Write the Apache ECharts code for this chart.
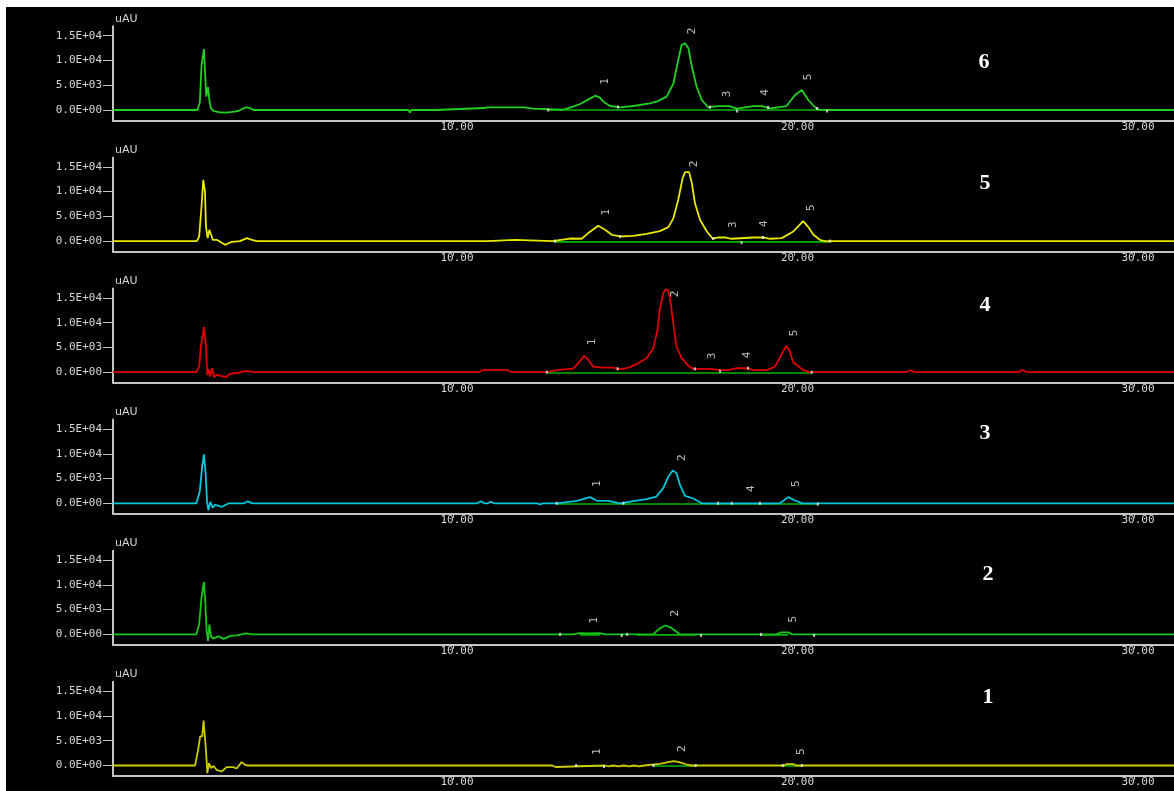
<!DOCTYPE html>
<html><head><meta charset="utf-8">
<script src="https://cdn.jsdelivr.net/npm/echarts@6/dist/echarts.min.js"></script>
<style>
html,body{margin:0;padding:0;background:#fff;width:1174px;height:791px;overflow:hidden;}
#c{position:absolute;left:6px;top:7px;width:1168px;height:784px;background:#000;}
</style>
</head><body><div id="c"></div>
<script>
// ---------- data ----------
const panelNames = ['6', '5', '4', '3', '2', '1'];
const xTicks = [10, 20, 30];
const yTicks = [0, 5000, 10000, 15000];
const yTickLabels = ['0.0E+00', '5.0E+03', '1.0E+04', '1.5E+04'];
const yUnit = 'uAU';

// traces [time(min), signal(uAU)]
const tr6 = [[0,0],[2.05,0],[2.08,-300],[2.11,0],[2.48,0],[2.55,1500],[2.6,9000],[2.64,9100],[2.67,12300],[2.7,8100],[2.74,2700],[2.79,4600],[2.84,1500],[2.88,300],[2.95,-200],[3.1,-450],[3.34,-550],[3.5,-400],[3.68,-200],[3.85,400],[3.93,550],[4.02,400],[4.12,0],
[8.68,0],[8.72,-500],[8.76,0],[9.49,0],[9.52,400],[10.9,400],[10.93,200],[10.98,550],[12.08,550],[12.12,270],[12.33,270],[12.38,0],[13.2,50],[13.45,545],[13.72,1210],[13.95,2100],[14.16,2890],[14.3,2500],[14.4,1680],[14.6,810],[14.89,545],[15.28,810],[15.77,1350],[16.0,1800],[16.26,2690],[16.46,5390],[16.6,10100],[16.7,13120],[16.8,13460],[16.9,12450],[17.0,8750],[17.14,4700],[17.29,2020],[17.48,545],[17.63,670],[17.8,800],[18.1,800],[18.32,270],[18.8,800],[19.06,800],[19.3,340],[19.78,800],[20.03,3030],[20.23,4040],[20.42,2020],[20.62,545],[20.76,0],[31.2,0]];
const tr5 = [[0,0],[2.46,0],[2.53,930],[2.6,6990],[2.65,12380],[2.7,10010],[2.73,2950],[2.78,600],[2.83,2280],[2.88,1940],[2.93,260],[3.05,260],[3.29,-750],[3.49,-140],[3.73,0],[3.93,600],[4.08,250],[4.22,0],
[11.0,0],[11.05,250],[11.8,250],[11.85,0],[12.9,0],[13.42,520],[13.76,470],[13.96,1620],[14.25,3090],[14.45,2280],[14.65,1270],[14.89,930],[15.28,1070],[15.67,1480],[16.06,2020],[16.31,2830],[16.46,4640],[16.6,8340],[16.73,12720],[16.8,13930],[16.92,13930],[17.0,11710],[17.09,7670],[17.24,4300],[17.44,1940],[17.61,520],[17.78,730],[17.97,730],[18.17,470],[18.8,730],[19.1,730],[19.3,470],[19.64,600],[19.98,1940],[20.27,4040],[20.42,2830],[20.57,1270],[20.76,260],[20.9,0],
[24.4,0],[24.45,300],[24.5,0],[25.5,0],[25.55,350],[25.6,0],[26.9,0],[26.95,300],[27.0,0],[28.5,0],[28.55,300],[28.6,0],[31.2,0]];
const tr4 = [[0,0],[2.44,0],[2.53,1130],[2.58,5170],[2.63,7190],[2.67,9090],[2.73,5170],[2.77,-550],[2.81,600],[2.85,-880],[2.91,800],[2.97,-1010],[3.05,-550],[3.32,-1010],[3.43,-340],[3.73,-60],[3.93,270],[4.12,0],
[10.75,0],[10.85,400],[11.6,400],[11.7,0],[12.74,0],[13.08,460],[13.52,730],[13.7,2140],[13.84,3290],[13.96,2480],[14.1,1130],[14.35,930],[14.69,930],[14.84,600],[15.09,800],[15.38,1620],[15.67,2830],[15.87,4850],[15.99,8540],[16.06,12580],[16.16,15950],[16.23,16760],[16.31,16470],[16.38,13930],[16.46,9550],[16.55,5170],[16.7,2830],[16.9,1270],[17.04,670],[17.53,670],[17.83,400],[18.07,400],[18.32,800],[18.61,800],[18.81,400],[19.2,400],[19.44,1130],[19.6,3150],[19.77,5310],[19.86,4500],[19.98,1940],[20.27,460],[20.45,0],
[23.3,0],[23.4,400],[23.55,0],[26.6,0],[26.7,500],[26.85,0],[31.2,0]];
const tr3 = [[0,0],[2.45,0],[2.55,2500],[2.62,7500],[2.67,9900],[2.72,6000],[2.76,500],[2.8,-1400],[2.86,300],[2.93,-900],[3.0,-300],[3.2,-700],[3.4,0],[3.85,0],[3.95,400],[4.1,0],
[10.7,0],[10.8,400],[10.9,0],[11.0,0],[11.1,300],[11.2,0],[12.45,0],[12.54,-200],[12.62,0],[13.03,0],[13.62,500],[14.01,1250],[14.2,560],[14.55,500],[14.89,0],[15.33,500],[15.67,840],[15.96,1370],[16.16,3060],[16.31,5400],[16.44,6620],[16.55,6090],[16.65,3730],[16.8,1510],[17.04,970],[17.29,0],[19.59,0],[19.83,1250],[20.03,560],[20.25,0],
[21.0,0],[21.05,-300],[21.1,0],[22.0,0],[22.05,250],[22.1,0],[23.5,0],[23.55,-250],[23.6,0],[25.0,0],[25.05,300],[25.1,0],[26.5,0],[26.55,-250],[26.6,0],[28.0,0],[28.05,250],[28.1,0],[29.6,0],[29.65,-250],[29.7,0],[31.2,0]];
const tr2 = [[0,0],[2.45,0],[2.53,2000],[2.6,7500],[2.64,7800],[2.67,10560],[2.71,6500],[2.75,600],[2.79,-1300],[2.83,2000],[2.88,-500],[2.95,-800],[3.1,-400],[3.25,-900],[3.45,-300],[3.65,-200],[3.9,200],[4.1,0],
[13.5,0],[13.7,260],[14.0,200],[14.3,260],[14.45,0],[15.87,50],[16.06,1200],[16.21,1800],[16.38,1400],[16.55,530],[16.65,0],[19.5,0],[19.6,400],[19.83,400],[19.95,0],[31.2,0]];
const tr1 = [[0,0],[2.41,0],[2.5,3170],[2.56,5860],[2.62,5860],[2.66,9090],[2.7,9090],[2.73,3170],[2.77,-1540],[2.82,480],[2.88,-530],[2.95,-100],[3.04,-870],[3.19,-1210],[3.34,-330],[3.53,-330],[3.63,-600],[3.78,680],[3.88,140],[3.97,0],
[5.0,0],[5.05,-300],[5.1,0],[6.0,0],[6.05,250],[6.1,0],[7.2,0],[7.25,-250],[7.3,0],[8.3,0],[8.35,250],[8.4,0],[9.2,0],[9.25,-200],[9.3,0],
[12.8,0],[12.85,-300],[12.9,0],[13.0,-300],[13.05,0],[14.45,0],[14.55,-200],[14.7,0],[14.85,-200],[15.0,0],[15.15,-200],[15.3,0],[15.45,-200],[15.6,0],
[16.06,340],[16.31,680],[16.46,880],[16.6,740],[16.85,200],[17.0,0],[19.7,0],[19.78,290],[19.98,290],[20.05,0],[26.4,0],[26.42,-250],[26.45,0],[31.2,0]];

// integration baselines (null = gap)
const bl6 = [[12.78,0],[20.97,0]];
const bl5 = [[12.98,-150],[21.06,-150]];
const bl4 = [[12.74,-150],[20.52,-150]];
const bl3 = [[13.03,-150],[20.7,-150]];
const bl2 = [[13.72,-100],[14.3,-100],null,[15.38,-100],[17.14,-100],null,[19.0,-100],[19.83,-100]];
const bl1 = [[13.6,-100],[14.42,-100],null,[15.87,-100],[17.11,-100],null,[19.67,-100],[20.23,-100]];

// peak start/end markers
const mk6 = [[12.78,0],[14.83,600],[17.53,600],[18.33,-200],[19.24,500],[20.68,300],[20.97,-200]];
const mk5 = [[12.98,0],[14.89,930],[17.63,520],[18.46,-300],[19.09,730],[21.06,0]];
const mk4 = [[12.74,0],[14.82,700],[17.09,670],[17.83,200],[18.65,800],[20.52,0]];
const mk3 = [[13.03,0],[14.99,0],[17.77,0],[18.17,0],[19.0,0],[20.7,-150]];
const mk2 = [[13.13,0],[14.94,-200],[15.1,0],[17.27,-200],[19.03,0],[20.59,-200]];
const mk1 = [[13.6,0],[14.42,-200],[15.87,0],[17.11,0],[19.67,0],[20.23,0]];

// peak number labels [time, signal, text]
const lb6 = [[14.45,5750,'1'],[17.0,15950,'2'],[18.05,3230,'3'],[19.15,3530,'4'],[20.41,6660,'5']];
const lb5 = [[14.48,5815,'1'],[17.06,15600,'2'],[18.21,3290,'3'],[19.12,3490,'4'],[20.5,6720,'5']];
const lb4 = [[14.07,6120,'1'],[16.52,15800,'2'],[17.59,3290,'3'],[18.62,3490,'4'],[20.0,7930,'5']];
const lb3 = [[14.21,3940,'1'],[16.71,9190,'2'],[18.74,2930,'4'],[20.06,3940,'5']];
const lb2 = [[14.13,2890,'1'],[16.5,4300,'2'],[19.97,3090,'5']];
const lb1 = [[14.21,2770,'1'],[16.71,3370,'2'],[20.21,2770,'5']];

// ---------- layout / style ----------
const OX = 6, OY = 7;
const traces = [tr6, tr5, tr4, tr3, tr2, tr1];
const bases = [bl6, bl5, bl4, bl3, bl2, bl1];
const marks = [mk6, mk5, mk4, mk3, mk2, mk1];
const labels = [lb6, lb5, lb4, lb3, lb2, lb1];
const colors = ['#22d022', '#e8e800', '#e00000', '#00c8dc', '#18c818', '#cccc00'];
const numPos = [[984, 62], [985, 183], [985, 305], [985, 433], [988, 574], [988, 697]];
const Y0 = 110, DY = 131.1, KY = 74.3 / 15000, YMIN = -2100, YMAX = 16900;
const FONT = '"DejaVu Sans Mono", monospace';
const AX = '#c4c4c4';

const grid = [], xAxis = [], yAxis = [], series = [], graphic = [];
for (let i = 0; i < 6; i++) {
  const zero = Y0 + DY * i;
  grid.push({ left: 113 - OX, right: 0, top: zero - YMAX * KY - OY, height: (YMAX - YMIN) * KY });
  xAxis.push({
    type: 'value', gridIndex: i, min: 0, max: 31.16,
    axisLine: { onZero: false, lineStyle: { color: AX, width: 2 } },
    axisTick: { customValues: xTicks, length: 4, lineStyle: { color: AX } },
    axisLabel: { customValues: xTicks, formatter: v => v.toFixed(2), margin: 1, padding: [0, 0, 0, 7],
      color: '#d8d8d8', fontFamily: FONT, fontSize: 11 },
    splitLine: { show: false }
  });
  yAxis.push({
    type: 'value', gridIndex: i, min: YMIN, max: YMAX,
    name: yUnit, nameLocation: 'end', nameGap: 2,
    nameTextStyle: { align: 'left', verticalAlign: 'bottom', padding: [0, 0, 0, 2], color: '#d8d8d8', fontFamily: '"DejaVu Sans"', fontSize: 11 },
    axisLine: { onZero: false, lineStyle: { color: AX, width: 2 } },
    axisTick: { customValues: yTicks, length: 10, lineStyle: { color: AX } },
    axisLabel: { customValues: yTicks, formatter: v => yTickLabels[yTicks.indexOf(v)], margin: 11,
      color: '#d8d8d8', fontFamily: FONT, fontSize: 11 },
    splitLine: { show: false }
  });
  series.push({ type: 'line', xAxisIndex: i, yAxisIndex: i, data: bases[i], symbol: 'none', connectNulls: false,
    lineStyle: { color: '#00b400', width: 1.6 }, z: 2, silent: true });
  series.push({ type: 'line', xAxisIndex: i, yAxisIndex: i, data: traces[i], symbol: 'none',
    lineStyle: { color: colors[i], width: 1.8 }, z: 3, silent: true });
  series.push({ type: 'scatter', xAxisIndex: i, yAxisIndex: i, data: marks[i], symbol: 'rect', symbolSize: [2, 3],
    itemStyle: { color: '#f0f0f0' }, z: 4, silent: true });
  series.push({ type: 'scatter', xAxisIndex: i, yAxisIndex: i, data: labels[i], symbolSize: 0, z: 5, silent: true,
    label: { show: true, position: 'inside', rotate: 90, formatter: p => p.data[2], color: '#e8e8e8', fontFamily: FONT, fontSize: 11 } });
  graphic.push({ type: 'text', x: numPos[i][0] - OX, y: numPos[i][1] - OY, z: 10,
    style: { text: panelNames[i], font: 'bold 22px "Liberation Serif"', fill: '#ffffff',
      align: 'center', verticalAlign: 'middle', textAlign: 'center', textVerticalAlign: 'middle' } });
}

const chart = echarts.init(document.getElementById('c'), null, { renderer: 'canvas' });
chart.setOption({ backgroundColor: '#000', animation: false, grid, xAxis, yAxis, series, graphic });
</script>
</body></html>
